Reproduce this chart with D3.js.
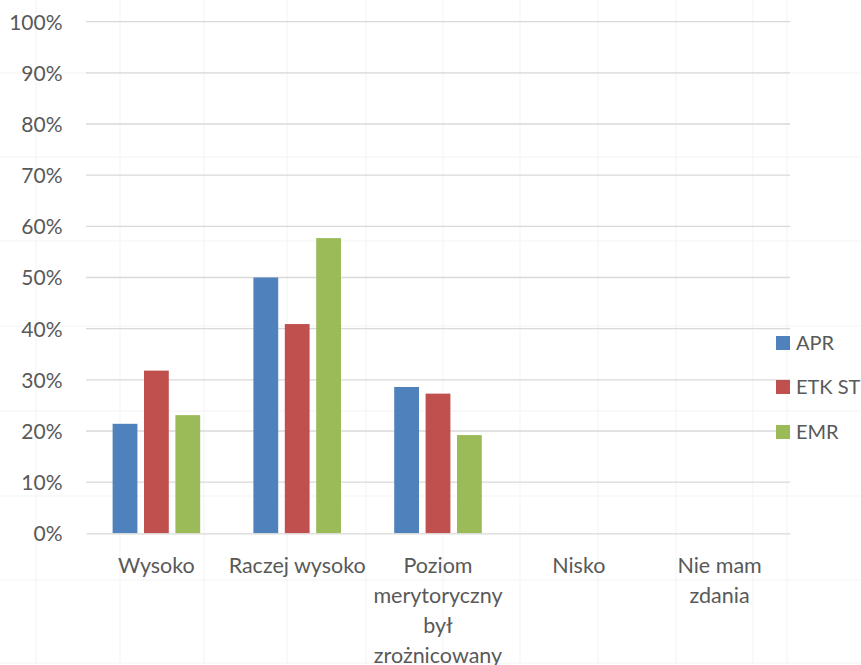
<!DOCTYPE html>
<html>
<head>
<meta charset="utf-8">
<script src="https://cdn.jsdelivr.net/npm/d3@7"></script>
<style>
  html, body { margin: 0; padding: 0; background: #ffffff; }
  svg { display: block; }
  text { font-family: Lato, "Open Sans", "Noto Sans", sans-serif; fill: #595959; }
</style>
</head>
<body>
<svg id="chart" width="861" height="665"></svg>
<script>
// ---- data ----
const categories = ["Wysoko", "Raczej wysoko", "Poziom merytoryczny był zrożnicowany", "Nisko", "Nie mam zdania"];
const categoryLines = [["Wysoko"], ["Raczej wysoko"], ["Poziom", "merytoryczny", "był", "zrożnicowany"], ["Nisko"], ["Nie mam", "zdania"]];
const seriesNames = ["APR", "ETK ST", "EMR"];
const aprValues = [21.4, 50.0, 28.6, 0, 0];
const etkValues = [31.8, 40.9, 27.3, 0, 0];
const emrValues = [23.1, 57.7, 19.2, 0, 0];
const yTicks = [0, 10, 20, 30, 40, 50, 60, 70, 80, 90, 100];
const colors = ["#4F81BD", "#C0504D", "#9BBB59"];

const seriesValues = [aprValues, etkValues, emrValues];
const rows = categories.map((c, i) => ({ cat: c, values: seriesNames.map((s, j) => ({ key: s, value: seriesValues[j][i] })) }));

const svg = d3.select("#chart");
const W = 861, H = 665;

// faint spreadsheet cell grid in the background
const bg = svg.append("g");
const cellX = [36, 120, 204, 287, 366, 443, 520, 598, 676, 753, 787];
const cellY = [73, 157, 241, 326, 411, 496, 580, 663];
bg.selectAll("line.cx").data(cellX).enter().append("line")
  .attr("x1", d => d).attr("x2", d => d).attr("y1", 0).attr("y2", H)
  .attr("stroke", "#f3f3f3").attr("stroke-width", 1);
bg.selectAll("line.cy").data(cellY).enter().append("line")
  .attr("x1", 0).attr("x2", W).attr("y1", d => d).attr("y2", d => d)
  .attr("stroke", "#f3f3f3").attr("stroke-width", 1);

const plot = { left: 86, right: 790, top: 21.7, bottom: 533.3 };

const x0 = d3.scaleBand().domain(categories).range([plot.left, plot.right]).paddingInner(0.378).paddingOuter(0.189);
const x1 = d3.scaleBand().domain(seriesNames).range([0, x0.bandwidth()]).paddingInner(0.21).paddingOuter(0);
const y = d3.scaleLinear().domain([0, 100]).range([plot.bottom, plot.top]);

// gridlines
svg.append("g").selectAll("line").data(yTicks.filter(t => t > 0)).enter().append("line")
  .attr("x1", plot.left).attr("x2", plot.right)
  .attr("y1", d => y(d)).attr("y2", d => y(d))
  .attr("stroke", "#d9d9d9").attr("stroke-width", 1.3);

// y axis labels
const yAxis = d3.axisLeft(y).tickValues(yTicks).tickFormat(d => d + "%").tickSize(0).tickPadding(0);
const gy = svg.append("g").attr("transform", `translate(${62.5},0)`).call(yAxis);
gy.select(".domain").remove();
gy.selectAll("text").style("font-size", "21px").attr("fill", "#595959").attr("dy", "0.35em")
  .style("font-family", "Lato, 'Open Sans', sans-serif");

// bars
const groups = svg.append("g").selectAll("g").data(rows).enter().append("g")
  .attr("transform", d => `translate(${x0(d.cat)},0)`);
groups.selectAll("rect").data(d => d.values).enter().append("rect")
  .attr("x", d => x1(d.key))
  .attr("width", x1.bandwidth())
  .attr("y", d => y(d.value))
  .attr("height", d => y(0) - y(d.value))
  .attr("fill", (d, i) => colors[i]);

// x axis line
const xAxis = d3.axisBottom(x0).tickSize(0).tickFormat("");
const gx = svg.append("g").attr("transform", `translate(0,${plot.bottom})`).call(xAxis);
gx.select(".domain").attr("stroke", "#d9d9d9").attr("stroke-width", 1.3);

// category labels
const labelG = svg.append("g");
categories.forEach((c, i) => {
  const cx = x0(c) + x0.bandwidth() / 2;
  const t = labelG.append("text").attr("text-anchor", "middle").style("font-size", "21.5px");
  categoryLines[i].forEach((ln, k) => {
    t.append("tspan").attr("x", cx).attr("y", 573 + k * 30).text(ln);
  });
});

// legend
const legendY = [343, 387, 432];
const lg = svg.append("g");
seriesNames.forEach((s, i) => {
  lg.append("rect").attr("x", 776).attr("y", legendY[i] - 7).attr("width", 14).attr("height", 14).attr("fill", colors[i]);
  lg.append("text").attr("x", 796).attr("y", legendY[i]).attr("dy", "0.35em").style("font-size", "20px").text(s);
});
</script>
</body>
</html>
